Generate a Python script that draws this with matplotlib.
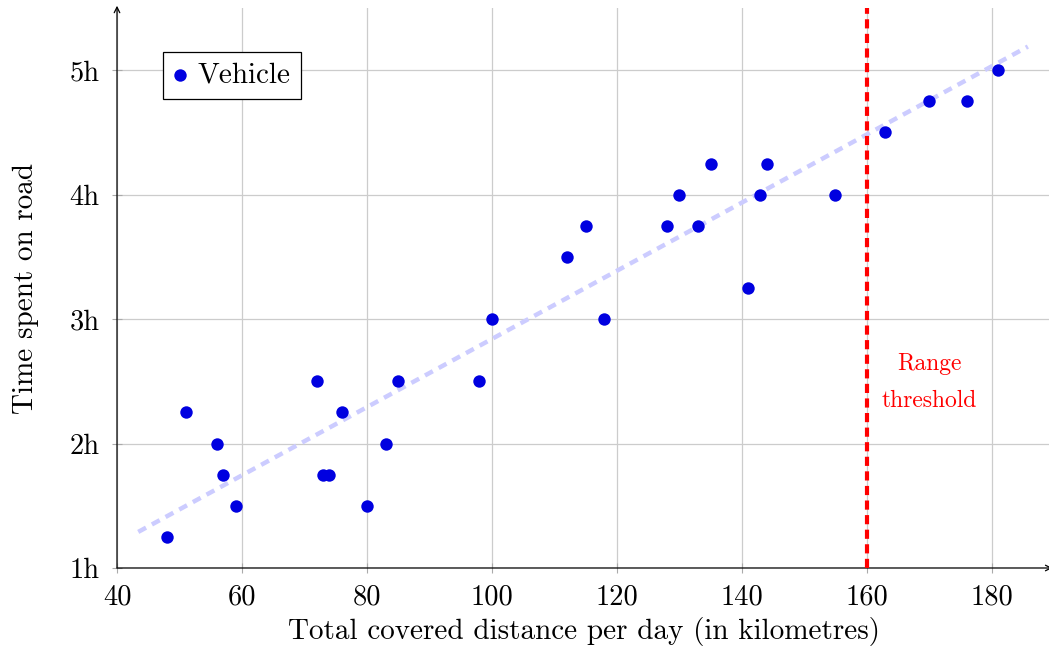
import numpy as np
import matplotlib
matplotlib.use("Agg")
import matplotlib.pyplot as plt
from matplotlib.ticker import FixedLocator, FixedFormatter

plt.rcParams['font.family'] = ['cmr10', 'DejaVu Serif']
plt.rcParams['axes.unicode_minus'] = False

distance_km = [48, 51, 56, 57, 59, 72, 73, 74, 76, 80, 83, 85, 98, 100,
               112, 115, 118, 128, 130, 133, 135, 141, 143, 144, 155,
               163, 170, 176, 181]
hours = [1.25, 2.25, 2.0, 1.75, 1.5, 2.5, 1.75, 1.75, 2.25, 1.5, 2.0, 2.5,
         2.5, 3.0, 3.5, 3.75, 3.0, 3.75, 4.0, 3.75, 4.25, 3.25, 4.0, 4.25,
         4.0, 4.5, 4.75, 4.75, 5.0]
trend_x = [43.4, 185.8]
trend_y = [1.29, 5.19]
threshold_km = 160
x_ticks = [40, 60, 80, 100, 120, 140, 160, 180]
y_ticks = [1, 2, 3, 4, 5]
y_tick_labels = ['1h', '2h', '3h', '4h', '5h']

fig = plt.figure(figsize=(10.49, 6.5), dpi=100)
ax = fig.add_axes([117/1049, 82/650, 934/1049, 560/650])

ax.set_xlim(40, 189.5)
ax.set_ylim(1, 5.5)

ax.grid(True, color='#cccccc', lw=0.9)
ax.set_axisbelow(True)

ax.plot(trend_x, trend_y, color='#ccccff', lw=3.2,
        linestyle=(0, (2, 1.5)), zorder=2)

ax.scatter(distance_km, hours, s=80, color='#0000e0', zorder=3, label='Vehicle',
           linewidths=0)

ax.axvline(threshold_km, color='#ff0000', lw=3, linestyle=(0, (2.2, 1.3)),
           ymax=1.0, zorder=4)
ax.text(170, 2.49, 'Range\nthreshold', color='#ff0000', fontsize=17,
        ha='center', va='center', linespacing=1.85)

ax.xaxis.set_major_locator(FixedLocator(x_ticks))
ax.yaxis.set_major_locator(FixedLocator(y_ticks))
ax.yaxis.set_major_formatter(FixedFormatter(y_tick_labels))
ax.tick_params(axis='both', direction='inout', length=7, width=0.8,
               color='#aaaaaa', labelsize=20.5)
ax.tick_params(axis='x', pad=8)
ax.tick_params(axis='y', pad=9)

for s in ax.spines.values():
    s.set_visible(False)
ax.annotate('', xy=(1.0015, 0), xytext=(0, 0), xycoords='axes fraction',
            arrowprops=dict(arrowstyle='->', lw=0.9, color='k',
                            shrinkA=0, shrinkB=0))
ax.annotate('', xy=(0, 1.004), xytext=(0, 0), xycoords='axes fraction',
            arrowprops=dict(arrowstyle='->', lw=0.9, color='k',
                            shrinkA=0, shrinkB=0))

ax.set_xlabel('Total covered distance per day (in kilometres)', fontsize=21,
              labelpad=5)
ax.set_ylabel('Time spent on road', fontsize=21, labelpad=22)

leg = ax.legend(loc='upper left', bbox_to_anchor=(0.049, 0.921), borderaxespad=0,
                fontsize=21, fancybox=False, edgecolor='black', framealpha=1,
                handletextpad=0.35, handlelength=0.5, borderpad=0.35,
                scatterpoints=1)
leg.get_frame().set_linewidth(0.9)

fig.savefig('out.png', dpi=100)
